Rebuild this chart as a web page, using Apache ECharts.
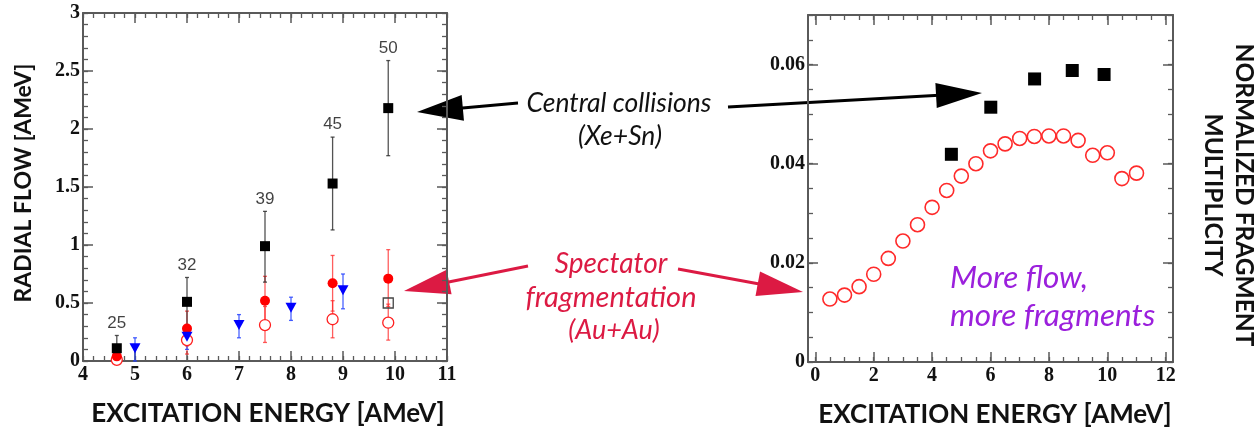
<!DOCTYPE html>
<html>
<head>
<meta charset="utf-8">
<script src="https://cdn.jsdelivr.net/npm/echarts@6/dist/echarts.min.js"></script>
<style>
  html, body { margin: 0; padding: 0; background: #fff; }
  #chart { width: 1259px; height: 429px; }
</style>
</head>
<body>
<div id="chart"></div>
<script>
// ---- Radial flow vs excitation energy (left panel) ----
// Central collisions Xe+Sn (filled squares), labelled with beam energy
const xeSnEnergy = [4.65, 6.0, 7.5, 8.8, 9.87];
const xeSnFlow   = [0.11, 0.51, 0.99, 1.53, 2.18];
const xeSnLow    = [0.00, 0.30, 0.68, 1.13, 1.77];
const xeSnHigh   = [0.22, 0.72, 1.29, 1.93, 2.59];
const beamEnergy = [25, 32, 39, 45, 50];

// Open square at highest energy
const openSquareEnergy = [9.87];
const openSquareFlow   = [0.50];

// Spectator fragmentation Au+Au (filled red circles)
const auEnergy = [4.65, 6.0, 7.5, 8.8, 9.87];
const auFlow   = [0.04, 0.28, 0.52, 0.67, 0.71];
const auLow    = [0.00, 0.13, 0.31, 0.43, 0.47];
const auHigh   = [0.08, 0.43, 0.73, 0.91, 0.96];

// Spectator fragmentation Au+Au (open red circles)
const auOpenFlow = [0.01, 0.18, 0.31, 0.36, 0.33];
const auOpenLow  = [0.00, 0.06, 0.16, 0.20, 0.18];
const auOpenHigh = [0.02, 0.30, 0.47, 0.52, 0.49];

// Blue down-triangles
const triEnergy = [5, 6, 7, 8, 9];
const triFlow   = [0.11, 0.21, 0.31, 0.46, 0.61];
const triLow    = [0.00, 0.10, 0.20, 0.35, 0.45];
const triHigh   = [0.20, 0.30, 0.40, 0.55, 0.75];

// ---- Normalized fragment multiplicity (right panel) ----
const multXeSnEnergy = [4.66, 6.01, 7.51, 8.8, 9.89];
const multXeSn       = [0.0419, 0.0514, 0.0571, 0.0588, 0.0580];
const multAuEnergy = [0.5, 1.0, 1.5, 2.0, 2.5, 3.0, 3.5, 4.0, 4.5, 5.0, 5.5,
                      6.0, 6.5, 7.0, 7.5, 8.0, 8.5, 9.0, 9.5, 10.0, 10.5, 11.0];
const multAu = [0.0127, 0.0135, 0.0152, 0.0177, 0.0209, 0.0244, 0.0277, 0.0312,
                0.0346, 0.0375, 0.0400, 0.0426, 0.0440, 0.0451, 0.0455, 0.0456,
                0.0456, 0.0447, 0.0417, 0.0422, 0.0370, 0.0381];

// ---- Tick values ----
const leftXTicks  = [4, 5, 6, 7, 8, 9, 10, 11];
const leftYTicks  = [0, 0.5, 1, 1.5, 2, 2.5, 3];
const rightXTicks = [0, 2, 4, 6, 8, 10, 12];
const rightYTicks = [0, 0.02, 0.04, 0.06];

function steps(a, b, s) {
  const out = [];
  for (let i = 0; a + i * s <= b + 1e-9; i++) out.push(+(a + i * s).toFixed(4));
  return out;
}
const leftXMinor  = steps(4, 11, 0.2);
const leftYMinor  = steps(0, 3, 0.1);
const rightXMinor = steps(0, 12, 0.5);
const rightYMinor = steps(0, 0.07, 0.005);

const zip = (...arrs) => arrs[0].map((_, i) => arrs.map(a => a[i]));

const AXIS = '#5a5a5a';
const tickLabel = {
  fontFamily: 'Liberation Serif', fontWeight: 'bold', fontSize: 20, color: '#111'
};

// Four axes per side pair: labelled main, mirrored opposite, and minor ticks on both
function frameAxes(dim, gridIndex, min, max, majors, minors) {
  const base = { type: 'value', gridIndex, min, max, splitLine: { show: false } };
  const pos = dim === 'x' ? ['bottom', 'top'] : ['left', 'right'];
  const line = { show: true, onZero: false, lineStyle: { color: AXIS, width: 2 } };
  const major = { show: true, inside: true, length: 10, customValues: majors,
                  lineStyle: { color: AXIS, width: 1.5 } };
  const minor = { show: true, inside: true, length: 5, customValues: minors,
                  lineStyle: { color: AXIS, width: 1.3 } };
  return [
    Object.assign({}, base, { position: pos[0], axisLine: line, axisTick: major,
      axisLabel: Object.assign({ show: true, customValues: majors, margin: dim === 'x' ? 4 : 3 }, tickLabel) }),
    Object.assign({}, base, { position: pos[1], axisLine: line, axisTick: major, axisLabel: { show: false } }),
    Object.assign({}, base, { position: pos[0], axisLine: { show: false, onZero: false }, axisTick: minor, axisLabel: { show: false } }),
    Object.assign({}, base, { position: pos[1], axisLine: { show: false, onZero: false }, axisTick: minor, axisLabel: { show: false } })
  ];
}

function errorBars(xs, lo, hi, color, xi, yi) {
  return {
    type: 'custom', xAxisIndex: xi, yAxisIndex: yi, silent: true, z: 2,
    data: zip(xs, lo, hi),
    renderItem: function (params, api) {
      const p1 = api.coord([api.value(0), api.value(1)]);
      const p2 = api.coord([api.value(0), api.value(2)]);
      const st = { stroke: color, lineWidth: 1.3 };
      return {
        type: 'group',
        children: [
          { type: 'line', shape: { x1: p1[0], y1: p1[1], x2: p2[0], y2: p2[1] }, style: st },
          { type: 'line', shape: { x1: p1[0] - 2, y1: p1[1], x2: p1[0] + 2, y2: p1[1] }, style: st },
          { type: 'line', shape: { x1: p2[0] - 2, y1: p2[1], x2: p2[0] + 2, y2: p2[1] }, style: st }
        ]
      };
    }
  };
}

function arrow(x1, y1, x2, y2, color, headLen, headHalf, w) {
  const dx = x2 - x1, dy = y2 - y1, d = Math.hypot(dx, dy);
  const ux = dx / d, uy = dy / d, px = -uy, py = ux;
  const bx = x2 - ux * headLen, by = y2 - uy * headLen;
  return [
    { type: 'line', silent: true, shape: { x1, y1, x2: bx + ux * 3, y2: by + uy * 3 },
      style: { stroke: color, lineWidth: w } },
    { type: 'polygon', silent: true,
      shape: { points: [[x2, y2], [bx + px * headHalf, by + py * headHalf], [bx - px * headHalf, by - py * headHalf]] },
      style: { fill: color } }
  ];
}

const CRIMSON = '#dc1a43';
const PURPLE = '#9b20dc';
const titleFont = { fontFamily: 'Lato', fontWeight: 'bold', fontSize: 23, fill: '#111' };
const noteFont = { fontFamily: 'Lato', fontStyle: 'italic', fontSize: 26.5 };

const chart = echarts.init(document.getElementById('chart'), null, { renderer: 'canvas' });

const xAxes = frameAxes('x', 0, 4, 11, leftXTicks, leftXMinor)
  .concat(frameAxes('x', 1, -0.25, 12.25, rightXTicks, rightXMinor));
const yAxes = frameAxes('y', 0, 0, 3, leftYTicks, leftYMinor)
  .concat(frameAxes('y', 1, 0, 0.07, rightYTicks, rightYMinor));

chart.setOption({
  animation: false,
  backgroundColor: '#fff',
  grid: [
    { left: 83, top: 13, width: 364, height: 348 },
    { left: 808, top: 15, width: 365, height: 347 }
  ],
  xAxis: xAxes,
  yAxis: yAxes,
  series: [
    // left panel error bars
    errorBars(auEnergy, auOpenLow, auOpenHigh, 'rgba(255,40,40,0.75)', 0, 0),
    errorBars(auEnergy, auLow, auHigh, 'rgba(255,40,40,0.75)', 0, 0),
    errorBars(triEnergy, triLow, triHigh, 'rgba(30,60,255,0.8)', 0, 0),
    errorBars(xeSnEnergy, xeSnLow, xeSnHigh, 'rgba(40,40,40,0.8)', 0, 0),
    {
      type: 'scatter', xAxisIndex: 0, yAxisIndex: 0, z: 3,
      symbol: 'circle', symbolSize: 11,
      itemStyle: { color: '#fff', borderColor: '#ff2020', borderWidth: 1.3, opacity: 1 },
      data: zip(auEnergy, auOpenFlow)
    },
    {
      type: 'scatter', xAxisIndex: 0, yAxisIndex: 0, z: 4,
      symbol: 'circle', symbolSize: 10,
      itemStyle: { color: '#ff0000', opacity: 1 },
      data: zip(auEnergy, auFlow)
    },
    {
      type: 'scatter', xAxisIndex: 0, yAxisIndex: 0, z: 4,
      symbol: 'triangle', symbolRotate: 180, symbolSize: [11, 10],
      itemStyle: { color: '#0000ff', opacity: 1 },
      data: zip(triEnergy, triFlow)
    },
    {
      type: 'scatter', xAxisIndex: 0, yAxisIndex: 0, z: 4,
      symbol: 'rect', symbolSize: 10,
      itemStyle: { color: 'transparent', borderColor: '#444', borderWidth: 1.3, opacity: 1 },
      data: zip(openSquareEnergy, openSquareFlow)
    },
    {
      type: 'scatter', xAxisIndex: 0, yAxisIndex: 0, z: 5,
      symbol: 'rect', symbolSize: 10,
      itemStyle: { color: '#000', opacity: 1 },
      data: zip(xeSnEnergy, xeSnFlow)
    },
    // beam energy labels above the Xe+Sn error bars
    {
      type: 'scatter', xAxisIndex: 0, yAxisIndex: 0, z: 5, silent: true,
      symbolSize: 0,
      data: zip(xeSnEnergy, xeSnHigh, beamEnergy),
      label: {
        show: true, position: 'top', distance: 4,
        formatter: p => String(p.value[2]),
        fontFamily: 'Liberation Sans', fontSize: 17, color: '#111'
      }
    },
    // right panel
    {
      type: 'scatter', xAxisIndex: 4, yAxisIndex: 4, z: 4,
      symbol: 'circle', symbolSize: 14,
      itemStyle: { color: 'transparent', borderColor: '#ff2a2a', borderWidth: 1.6, opacity: 1 },
      data: zip(multAuEnergy, multAu)
    },
    {
      type: 'scatter', xAxisIndex: 4, yAxisIndex: 4, z: 5,
      symbol: 'rect', symbolSize: 13,
      itemStyle: { color: '#000', opacity: 1 },
      data: zip(multXeSnEnergy, multXeSn)
    }
  ],
  graphic: [
    // axis titles
    { type: 'text', x: 24, y: 183, rotation: Math.PI / 2, silent: true,
      style: Object.assign({ text: 'RADIAL FLOW [AMeV]', align: 'center', verticalAlign: 'middle' }, titleFont) },
    { type: 'text', x: 268, y: 414, silent: true,
      style: Object.assign({ text: 'EXCITATION ENERGY [AMeV]', align: 'center', verticalAlign: 'middle' }, titleFont, { fontSize: 26 }) },
    { type: 'text', x: 995, y: 415, silent: true,
      style: Object.assign({ text: 'EXCITATION ENERGY [AMeV]', align: 'center', verticalAlign: 'middle' }, titleFont, { fontSize: 26 }) },
    { type: 'text', x: 1228, y: 195, rotation: -Math.PI / 2, silent: true,
      style: Object.assign({ text: 'NORMALIZED FRAGMENT\nMULTIPLICITY', align: 'center', verticalAlign: 'middle', lineHeight: 31 }, titleFont, { fontSize: 24.5 }) },
    // annotations
    { type: 'text', x: 619, y: 103, silent: true,
      style: Object.assign({ text: 'Central collisions', align: 'center', verticalAlign: 'middle', fill: '#111' }, noteFont) },
    { type: 'text', x: 620, y: 136, silent: true,
      style: Object.assign({ text: '(Xe+Sn)', align: 'center', verticalAlign: 'middle', fill: '#111' }, noteFont) },
    { type: 'text', x: 611, y: 264, silent: true,
      style: Object.assign({ text: 'Spectator', align: 'center', verticalAlign: 'middle', fill: CRIMSON }, noteFont, { fontSize: 28 }) },
    { type: 'text', x: 611, y: 298, silent: true,
      style: Object.assign({ text: 'fragmentation', align: 'center', verticalAlign: 'middle', fill: CRIMSON }, noteFont, { fontSize: 29 }) },
    { type: 'text', x: 614, y: 330, silent: true,
      style: Object.assign({ text: '(Au+Au)', align: 'center', verticalAlign: 'middle', fill: CRIMSON }, noteFont, { fontSize: 27 }) },
    { type: 'text', x: 950, y: 278, silent: true,
      style: Object.assign({ text: 'More flow,', align: 'left', verticalAlign: 'middle', fill: PURPLE }, noteFont, { fontSize: 31.5 }) },
    { type: 'text', x: 950, y: 316, silent: true,
      style: Object.assign({ text: 'more fragments', align: 'left', verticalAlign: 'middle', fill: PURPLE }, noteFont, { fontSize: 31.5 }) }
  ]
    .concat(arrow(518, 103, 417, 112, '#000', 46, 13, 3))
    .concat(arrow(728, 107, 982, 93, '#000', 46, 12.5, 3))
    .concat(arrow(528, 266, 404, 291, CRIMSON, 46, 12.5, 3))
    .concat(arrow(678, 269, 803, 292, CRIMSON, 46, 12.5, 3))
});
</script>
</body>
</html>
